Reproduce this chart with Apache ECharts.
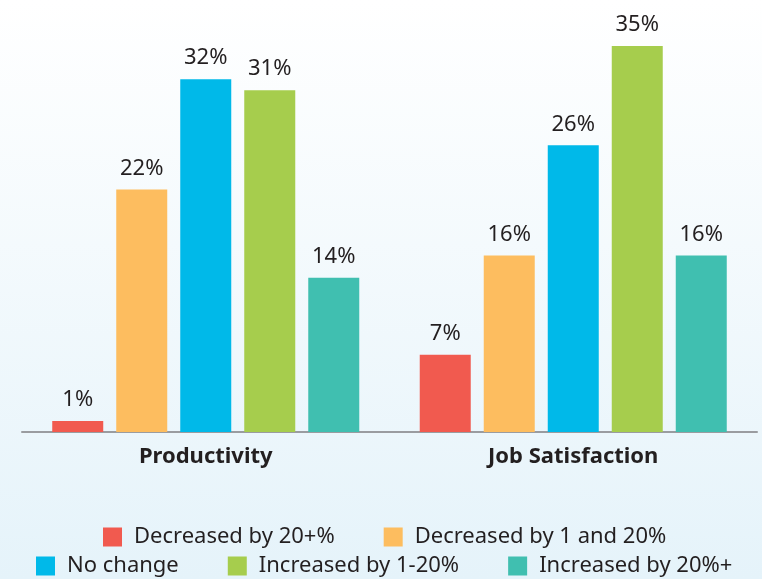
<!DOCTYPE html>
<html>
<head>
<meta charset="utf-8">
<script src="https://cdn.jsdelivr.net/npm/echarts@6/dist/echarts.min.js"></script>
<style>
  html, body { margin: 0; padding: 0; }
  #chart { width: 762px; height: 579px; }
</style>
</head>
<body>
<div id="chart"></div>
<script>
// categories and series
var categories = ['Productivity', 'Job Satisfaction']
var seriesNames = ['Decreased by 20+%', 'Decreased by 1 and 20%', 'No change', 'Increased by 1-20%', 'Increased by 20%+']
var decreased20 = [1, 7]
var decreased1to20 = [22, 16]
var noChange = [32, 26]
var increased1to20 = [31, 35]
var increased20 = [14, 16]
var colors = ['#f15a4f', '#fdbd5f', '#00b9e9', '#a6cd4d', '#40bfb0']

var values = [decreased20, decreased1to20, noChange, increased1to20, increased20]
var font = 'Noto Sans'

var myChart = echarts.init(document.getElementById('chart'))

var series = values.map(function (v, i) {
  return {
    name: seriesNames[i],
    type: 'bar',
    data: v,
    barWidth: 51,
    barGap: '25.5%',
    itemStyle: { color: colors[i] },
    label: {
      show: true,
      position: 'top',
      distance: 10,
      formatter: '{c}%',
      fontFamily: font,
      fontSize: 22,
      color: '#231f20'
    }
  }
})

var legendText = {
  fontFamily: font,
  fontSize: 22,
  lineHeight: 19,
  color: '#231f20',
  padding: [0, 0, 0, 7]
}

var option = {
  backgroundColor: {
    type: 'linear', x: 0, y: 0, x2: 0, y2: 1,
    colorStops: [
      { offset: 0, color: '#ffffff' },
      { offset: 1, color: '#e5f3fa' }
    ]
  },
  animation: false,
  legend: [
    {
      data: seriesNames.slice(0, 2),
      left: 103,
      top: 526,
      padding: 0,
      itemWidth: 19,
      itemHeight: 19,
      itemGap: 49,
      icon: 'rect',
      textStyle: legendText
    },
    {
      data: seriesNames.slice(2),
      left: 36,
      top: 555,
      padding: 0,
      itemWidth: 19,
      itemHeight: 19,
      itemGap: 49,
      icon: 'rect',
      textStyle: legendText
    }
  ],
  grid: {
    left: 22,
    top: 2,
    width: 735,
    height: 430,
    containLabel: false
  },
  xAxis: {
    type: 'category',
    data: categories,
    axisLine: { lineStyle: { color: '#9a9ca0', width: 2 } },
    axisTick: { show: false },
    axisLabel: {
      margin: 14,
      fontFamily: font,
      fontSize: 22,
      fontWeight: 'bold',
      color: '#231f20'
    }
  },
  yAxis: {
    type: 'value',
    min: 0,
    max: 39,
    show: false
  },
  series: series
}

myChart.setOption(option)
</script>
</body>
</html>
